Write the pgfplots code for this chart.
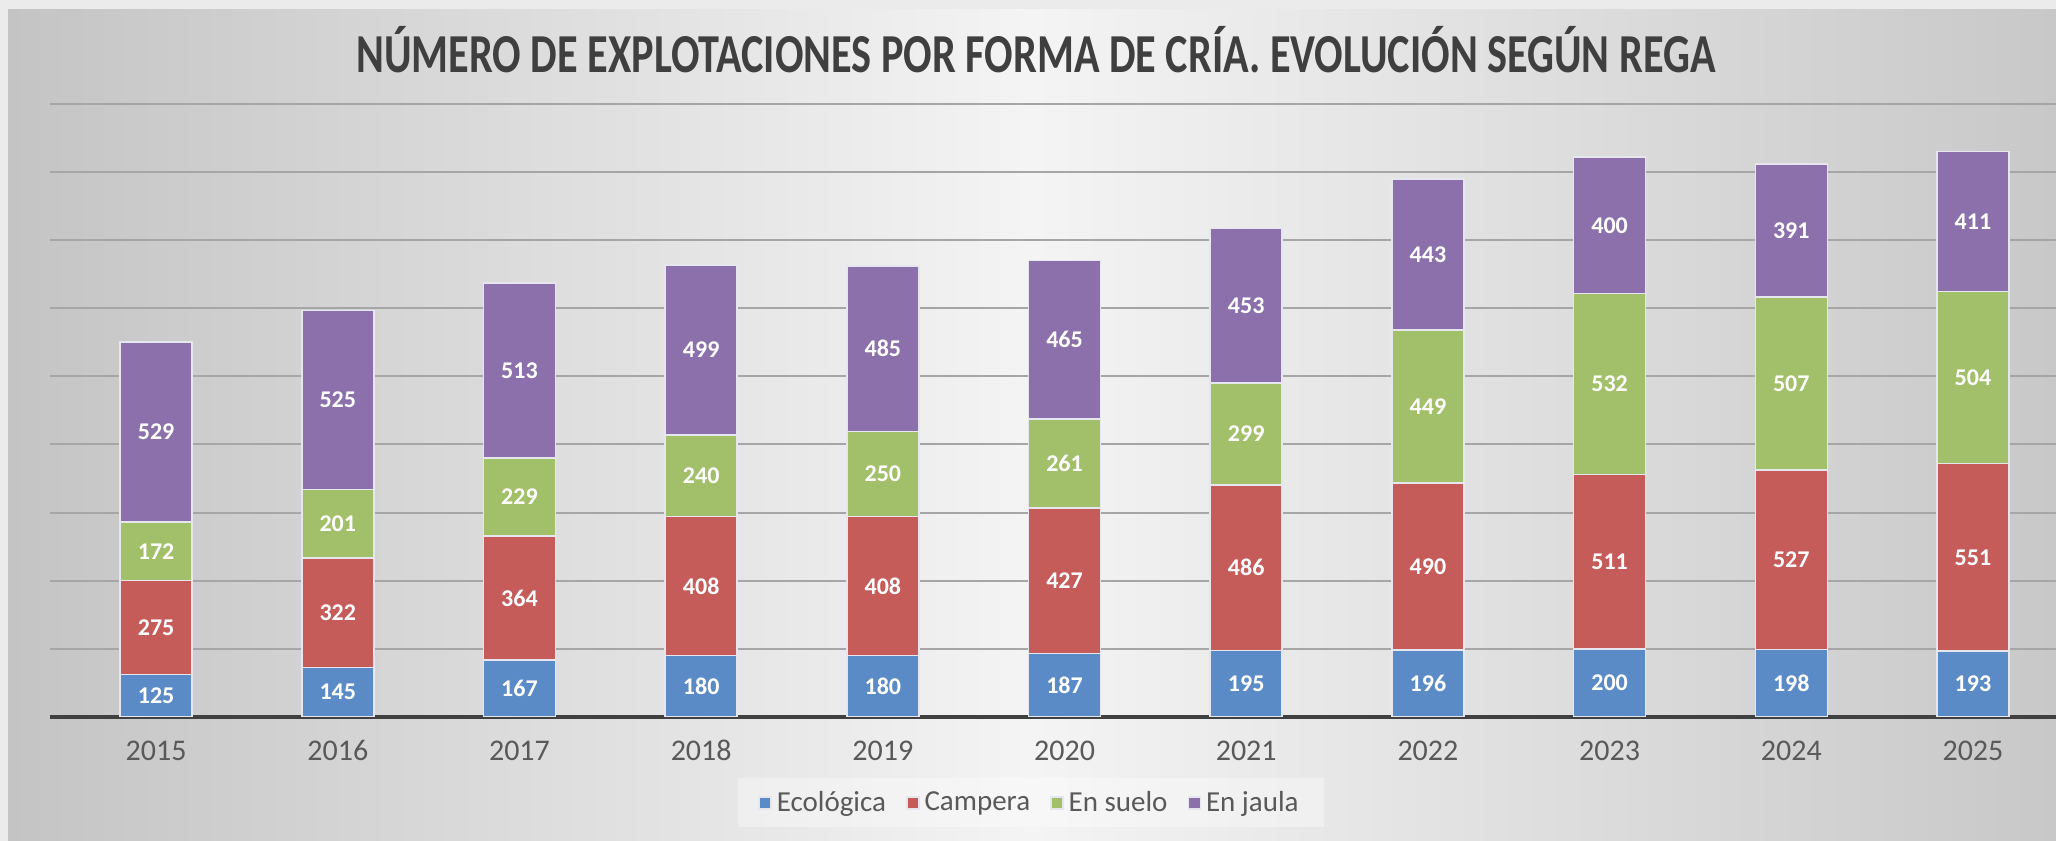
\documentclass[border=0pt]{standalone}
\usepackage{pgfplots}
\pgfplotsset{compat=1.18}
\usepackage{fontspec}
\setmainfont{Carlito}
\definecolor{cEco}{HTML}{5B8BC7}
\definecolor{cCam}{HTML}{C55C5A}
\definecolor{cSue}{HTML}{A2BF69}
\definecolor{cJau}{HTML}{8B70AB}
\definecolor{cTitle}{HTML}{3F3F3F}
\definecolor{cTick}{HTML}{595959}
\definecolor{cGrid}{HTML}{A6A6A6}
\definecolor{cBase}{HTML}{404040}
\definecolor{cEdge}{HTML}{E6E6EE}
\definecolor{cOuter}{HTML}{EBEBEB}
\definecolor{cBgL}{HTML}{C4C4C4}
\definecolor{cBgM}{HTML}{F4F4F4}
\definecolor{cBgR}{HTML}{C8C8C8}
\begin{document}
\begin{tikzpicture}
\useasboundingbox (0pt,0pt) rectangle (822.4pt,336.4pt);
\fill[cOuter] (0pt,0pt) rectangle (822.4pt,336.4pt);
\shade[left color=cBgL, right color=cBgR, middle color=cBgM] (3.2pt,0pt) rectangle (822.4pt,332.4pt);
\node[font=\bfseries\fontsize{16.9}{20}\selectfont, text=cTitle, yscale=1.3, transform shape] at (414.4pt,316.4pt) {NÚMERO DE EXPLOTACIONES POR FORMA DE CRÍA. EVOLUCIÓN SEGÚN REGA};
\begin{axis}[
  at={(20pt,49.6pt)}, anchor=south west,
  scale only axis, width=802.4pt, height=245.36pt,
  ybar stacked, bar width=28.8pt,
  xmin=-0.584, xmax=10.457, ymin=0, ymax=1800,
  axis line style={draw=none},
  major tick length=0pt,
  ytick={200,400,...,1800}, yticklabels={},
  ymajorgrids, grid style={draw=cGrid, line width=0.8pt},
  extra y ticks={0}, extra y tick labels={},
  extra y tick style={grid style={draw=cBase, line width=1.6pt}},
  xtick={0,1,2,3,4,5,6,7,8,9,10},
  xticklabels={2015,2016,2017,2018,2019,2020,2021,2022,2023,2024,2025},
  /pgf/number format/assume math mode=true,
  x tick label style={font=\fontsize{12}{14}\selectfont, text=cTick, anchor=base, yshift=-17.4pt},
  nodes near coords,
  point meta=rawy,
  every node near coord/.append style={font=\bfseries\fontsize{9.6}{12}\selectfont, text=white, anchor=center},
  legend columns=4,
  legend style={at={(0.489,-0.140)}, anchor=center, fill=white, fill opacity=0.35, text opacity=1, draw=none,
    font=\fontsize{11.6}{13}\selectfont, text=cTick, inner xsep=8pt, inner ysep=3pt,
    /tikz/every even column/.append style={column sep=6pt}},
  legend image code/.code={\fill[#1, fill opacity=1] (0pt,-2.4pt) rectangle (4.8pt,2.4pt);},
]
\addplot[fill=cEco, draw=cEdge, line width=0.6pt] coordinates {(0,125) (1,145) (2,167) (3,180) (4,180) (5,187) (6,195) (7,196) (8,200) (9,198) (10,193)};
\addplot[fill=cCam, draw=cEdge, line width=0.6pt] coordinates {(0,275) (1,322) (2,364) (3,408) (4,408) (5,427) (6,486) (7,490) (8,511) (9,527) (10,551)};
\addplot[fill=cSue, draw=cEdge, line width=0.6pt] coordinates {(0,172) (1,201) (2,229) (3,240) (4,250) (5,261) (6,299) (7,449) (8,532) (9,507) (10,504)};
\addplot[fill=cJau, draw=cEdge, line width=0.6pt] coordinates {(0,529) (1,525) (2,513) (3,499) (4,485) (5,465) (6,453) (7,443) (8,400) (9,391) (10,411)};
\legend{Ecológica, Campera, En suelo, En jaula}
\end{axis}
\end{tikzpicture}
\end{document}
